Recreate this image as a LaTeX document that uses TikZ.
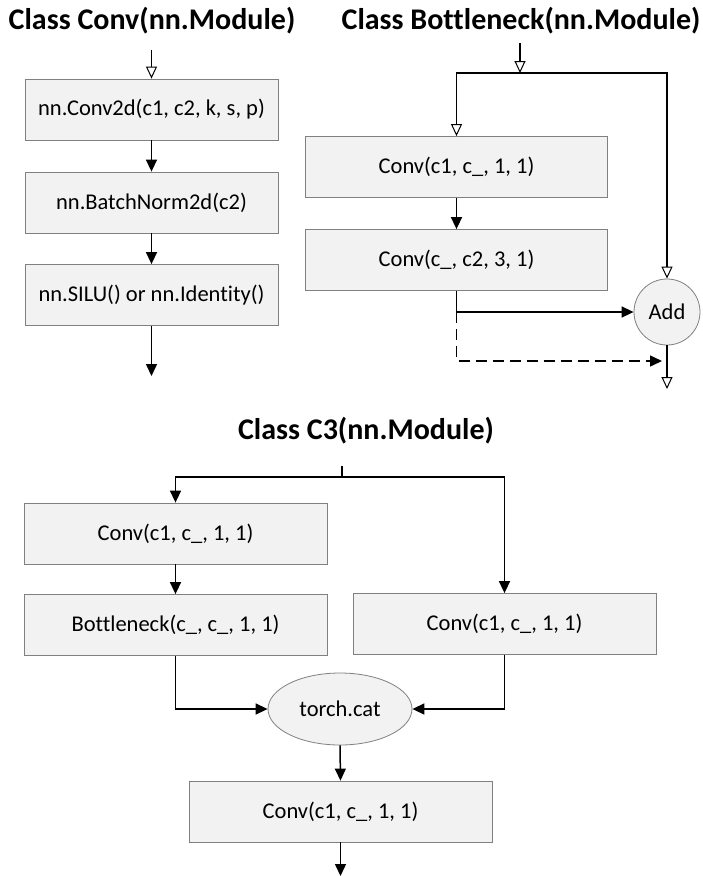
\documentclass[tikz,border=0pt]{standalone}
\usepackage{fontspec}
\setmainfont[Ligatures=NoCommon]{Carlito}
\usetikzlibrary{arrows.meta,shapes.geometric}
\definecolor{boxfill}{HTML}{F2F2F2}
\definecolor{boxline}{HTML}{808080}
\begin{document}
\begin{tikzpicture}[x=1pt,y=-1pt,
  title/.style={font=\fontsize{30}{33}\selectfont\bfseries, inner sep=0pt},
  blk/.style={draw=boxline, fill=boxfill, line width=0.8pt, inner sep=0pt,
    font=\fontsize{22.5}{26}\selectfont, minimum width=#1, minimum height=61pt},
  blk/.default=253pt,
  ell/.style={draw=boxline, fill=boxfill, line width=0.8pt, ellipse, inner sep=0pt,
    font=\fontsize{22.5}{26}\selectfont},
  flow/.style={line width=1.5pt, -{Triangle[length=12pt,width=11pt]}},
  oflow/.style={line width=1.5pt, -{Triangle[open,length=12pt,width=11pt,line width=1pt]}},
  plain/.style={line width=1.5pt}
]
\useasboundingbox (0,0) rectangle (703,876);
\fill[white] (0,0) rectangle (703,876);

% ---- Class Conv ----
\node[title] (t1) at (152,21) {Class Conv(nn.Module)};
\node[blk] (c1) at (151.5,109.5) {nn.Conv2d(c1, c2, k, s, p)};
\node[blk] (c2) at (151.5,202.5) {nn.BatchNorm2d(c2)};
\node[blk] (c3) at (151.5,295) {nn.SILU() or nn.Identity()};
\coordinate (cin) at (151.5,50);
\coordinate (cout) at (151.5,376);
\draw[oflow] (cin) -- (c1.north);
\draw[flow] (c1.south) -- (c2.north);
\draw[flow] (c2.south) -- (c3.north);
\draw[flow] (c3.south) -- (cout);

% ---- Class Bottleneck ----
\node[title] (t2) at (521,21) {Class Bottleneck(nn.Module)};
\node[blk=302pt] (b1) at (456.5,167) {Conv(c1, c\_, 1, 1)};
\node[blk=302pt] (b2) at (456.5,260) {Conv(c\_, c2, 3, 1)};
\node[draw=boxline, fill=boxfill, line width=0.8pt, circle, minimum size=66pt, inner sep=0pt,
  font=\fontsize{22.5}{26}\selectfont] (add) at (667,312) {Add};
\coordinate (bin) at (520,43);
\coordinate (bsplit) at (520,73);
\coordinate (dend) at (662,361);
\coordinate (bout) at (667,389);
\draw[oflow] (bin) -- (bsplit);
\draw[oflow] (bsplit) -| (b1.north);
\draw[oflow] (bsplit) -| (add.north);
\draw[flow] (b1.south) -- (b2.north);
\draw[flow] (b2.south) |- (add.west);
\draw[line width=1.5pt, dash pattern=on 11pt off 6pt, -{Triangle[length=12pt,width=11pt]}]
  (b2.south |- add.west) -- (b2.south |- dend) -- (dend);
\draw[oflow] (add.south) -- (bout);

% ---- Class C3 ----
\node[title] (t3) at (366,431) {Class C3(nn.Module)};
\node[blk=303pt] (l1) at (175.5,533.5) {Conv(c1, c\_, 1, 1)};
\node[blk=303pt] (l2) at (175.5,625) {Bottleneck(c\_, c\_, 1, 1)};
\node[blk=303pt] (r1) at (504.5,624) {Conv(c1, c\_, 1, 1)};
\node[ell, minimum width=144pt, minimum height=72pt] (cat) at (340,709) {torch.cat};
\node[blk=303pt] (o1) at (340.5,811.5) {Conv(c1, c\_, 1, 1)};
\coordinate (cin3) at (342,466);
\coordinate (split3) at (342,477);
\coordinate (cout3) at (340.5,876);
\draw[plain] (cin3) -- (split3);
\draw[flow] (split3) -| (l1.north);
\draw[flow] (split3) -| (r1.north);
\draw[flow] (l1.south) -- (l2.north);
\draw[flow] (l2.south) |- (cat.west);
\draw[flow] (r1.south) |- (cat.east);
\draw[flow] (cat.south) -- (o1.north);
\draw[flow] (o1.south) -- (cout3);
\end{tikzpicture}
\end{document}
